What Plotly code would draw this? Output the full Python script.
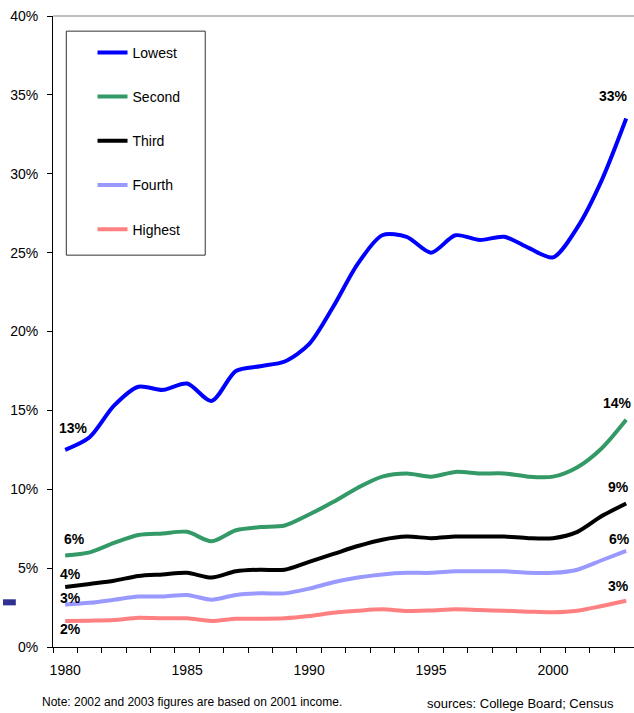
import plotly.graph_objects as go

# data (percent)
years = list(range(1980, 2004))

lowest = [12.5, 13.3, 15.3, 16.5, 16.3, 16.7, 15.6, 17.5, 17.8, 18.1, 19.2, 21.6,
          24.3, 26.1, 26.0, 25.0, 26.1, 25.8, 26.0, 25.3, 24.7, 26.6, 29.6, 33.5]
second = [5.8, 6.0, 6.6, 7.1, 7.2, 7.3, 6.7, 7.4, 7.6, 7.7, 8.4, 9.2,
          10.1, 10.8, 11.0, 10.8, 11.1, 11.0, 11.0, 10.8, 10.8, 11.4, 12.6, 14.4]
third = [3.8, 4.0, 4.2, 4.5, 4.6, 4.7, 4.4, 4.8, 4.9, 4.9, 5.4, 5.9,
         6.4, 6.8, 7.0, 6.9, 7.0, 7.0, 7.0, 6.9, 6.9, 7.3, 8.3, 9.1]
fourth = [2.7, 2.8, 3.0, 3.2, 3.2, 3.3, 3.0, 3.3, 3.4, 3.4, 3.7, 4.1,
          4.4, 4.6, 4.7, 4.7, 4.8, 4.8, 4.8, 4.7, 4.7, 4.9, 5.5, 6.1]
highest = [1.65, 1.67, 1.71, 1.86, 1.82, 1.82, 1.65, 1.79, 1.79, 1.82, 1.96, 2.17,
           2.30, 2.39, 2.28, 2.32, 2.39, 2.34, 2.30, 2.24, 2.20, 2.30, 2.60, 2.93]

names = ["Lowest", "Second", "Third", "Fourth", "Highest"]
series = [lowest, second, third, fourth, highest]
colors = ["#0000FF", "#339966", "#000000", "#9999FF", "#FF8080"]
start_labels = ["13%", "6%", "4%", "3%", "2%"]
end_labels = ["33%", "14%", "9%", "6%", "3%"]

FONT = "Liberation Sans, Arial, sans-serif"

fig = go.Figure()
for i, (name, vals, col) in enumerate(zip(names, series, colors)):
    fig.add_trace(go.Scatter(
        x=years, y=vals, name=name, mode="lines",
        line=dict(color=col, width=4, shape="spline", smoothing=0.8),
        legendgroup=name, hoverinfo="skip",
    ))

# label offsets (pixels) for first / last points
start_shift = [(8, 22), (9, 17), (5, 13), (5, 6), (5, -8)]
end_shift = [(-13, 23), (-9, 17), (-8, 16), (-7, 12), (-8, 15)]

for i, vals in enumerate(series):
    fig.add_annotation(x=years[0], y=vals[0], text=start_labels[i], showarrow=False,
                       xshift=start_shift[i][0], yshift=start_shift[i][1],
                       font=dict(family=FONT, size=14, color="black", weight="bold"))
    fig.add_annotation(x=years[-1], y=vals[-1], text=end_labels[i], showarrow=False,
                       xshift=end_shift[i][0], yshift=end_shift[i][1],
                       font=dict(family=FONT, size=14, color="black", weight="bold"))

fig.add_annotation(xref="paper", yref="paper", x=-0.022, y=-0.087,
                   text="Note: 2002 and 2003 figures are based on 2001 income.",
                   showarrow=False, xanchor="left", yanchor="middle",
                   font=dict(family=FONT, size=12, color="black"))
fig.add_annotation(xref="paper", yref="paper", x=0.64, y=-0.09,
                   text="sources: College Board; Census",
                   showarrow=False, xanchor="left", yanchor="middle",
                   font=dict(family=FONT, size=13, color="black"))

# legend frame, top border of plot area, stray mark at left
fig.add_shape(type="rect", xref="paper", yref="paper", x0=0.0229, x1=0.262, y0=0.621, y1=0.976,
              line=dict(color="#333333", width=1), fillcolor="rgba(0,0,0,0)")
fig.add_shape(type="line", xref="paper", yref="paper", x0=0, x1=1, y0=1, y1=1,
              line=dict(color="#808080", width=1))
fig.add_shape(type="rect", xref="paper", yref="paper", x0=-0.086, x1=-0.064, y0=0.066, y1=0.0756,
              line=dict(width=0), fillcolor="#2E3192")

fig.update_layout(
    width=634, height=713,
    margin=dict(l=53, r=0, t=16, b=66),
    paper_bgcolor="white", plot_bgcolor="white",
    font=dict(family=FONT, size=14, color="black"),
    showlegend=True,
    legend=dict(x=0.068, y=0.967, xanchor="left", yanchor="top",
                bgcolor="rgba(0,0,0,0)", borderwidth=0,
                tracegroupgap=23, itemwidth=30,
                font=dict(family=FONT, size=14, color="black")),
    xaxis=dict(range=[1979.5, 2003.32], tickvals=[1980, 1985, 1990, 1995, 2000],
               ticks="", showgrid=False, zeroline=False, showline=True,
               linecolor="black", linewidth=1, ticklabelstandoff=10,
               tickfont=dict(family=FONT, size=14),
               minor=dict(ticks="outside", tick0=1979.5, dtick=1, ticklen=5,
                          tickcolor="black", showgrid=False)),
    yaxis=dict(range=[0, 40], tickvals=[0, 5, 10, 15, 20, 25, 30, 35, 40],
               ticktext=[f"{v}%" for v in [0, 5, 10, 15, 20, 25, 30, 35, 40]],
               ticks="outside", ticklen=5, tickcolor="black", showgrid=False,
               zeroline=False, showline=True, linecolor="black", linewidth=1,
               ticklabelstandoff=6, tickfont=dict(family=FONT, size=14)),
)

# page body has a default margin; drop it so the chart sits at the window corner
fig.write_html("out.html", config={"displayModeBar": False},
               post_script="document.body.style.margin='0';")
